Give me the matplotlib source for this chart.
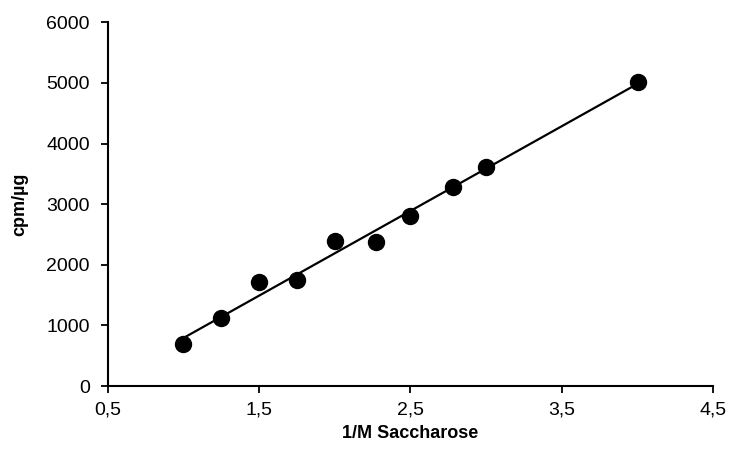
import numpy as np
import matplotlib
matplotlib.use("Agg")
import matplotlib.pyplot as plt
from matplotlib.ticker import FuncFormatter

plt.rcParams['font.family'] = ['Liberation Sans', 'DejaVu Sans']

# inverse sucrose concentration (1/M) and specific activity (cpm/µg)
inv_sucrose = [1.0, 1.25, 1.5, 1.75, 2.0, 2.27, 2.5, 2.78, 3.0, 4.0]
cpm_per_ug = [700, 1130, 1710, 1750, 2390, 2380, 2810, 3280, 3610, 5010]

x_ticks = [0.5, 1.5, 2.5, 3.5, 4.5]
y_ticks = [0, 1000, 2000, 3000, 4000, 5000, 6000]

fig = plt.figure(figsize=(7.33, 4.63), dpi=100)
ax = fig.add_axes([0.147, 0.166, 0.826, 0.786])

x = np.array(inv_sucrose)
y = np.array(cpm_per_ug)
slope, intercept = np.polyfit(x, y, 1)
xf = np.array([x.min(), x.max()])
ax.plot(xf, slope * xf + intercept, color='black', lw=1.6, zorder=2)
ax.plot(x, y, 'o', color='black', markersize=11.5, zorder=3)

ax.set_xlim(0.5, 4.5)
ax.set_ylim(0, 6000)
ax.set_xticks(x_ticks)
ax.set_yticks(y_ticks)
ax.xaxis.set_major_formatter(FuncFormatter(lambda v, p: f"{v:.1f}".replace('.', ',')))

for s in ['top', 'right']:
    ax.spines[s].set_visible(False)
for s in ['left', 'bottom']:
    ax.spines[s].set_linewidth(1.5)
ax.tick_params(direction='out', length=5, width=1.3, labelsize=14)
ax.tick_params(axis='x', pad=6)
ax.tick_params(axis='y', pad=8)

ax.set_xlabel('1/M Saccharose', fontsize=13, fontweight='bold', labelpad=4.5)
ax.set_ylabel('cpm/µg', fontsize=13, fontweight='bold', labelpad=13)

fig.savefig('out.png', dpi=100)
